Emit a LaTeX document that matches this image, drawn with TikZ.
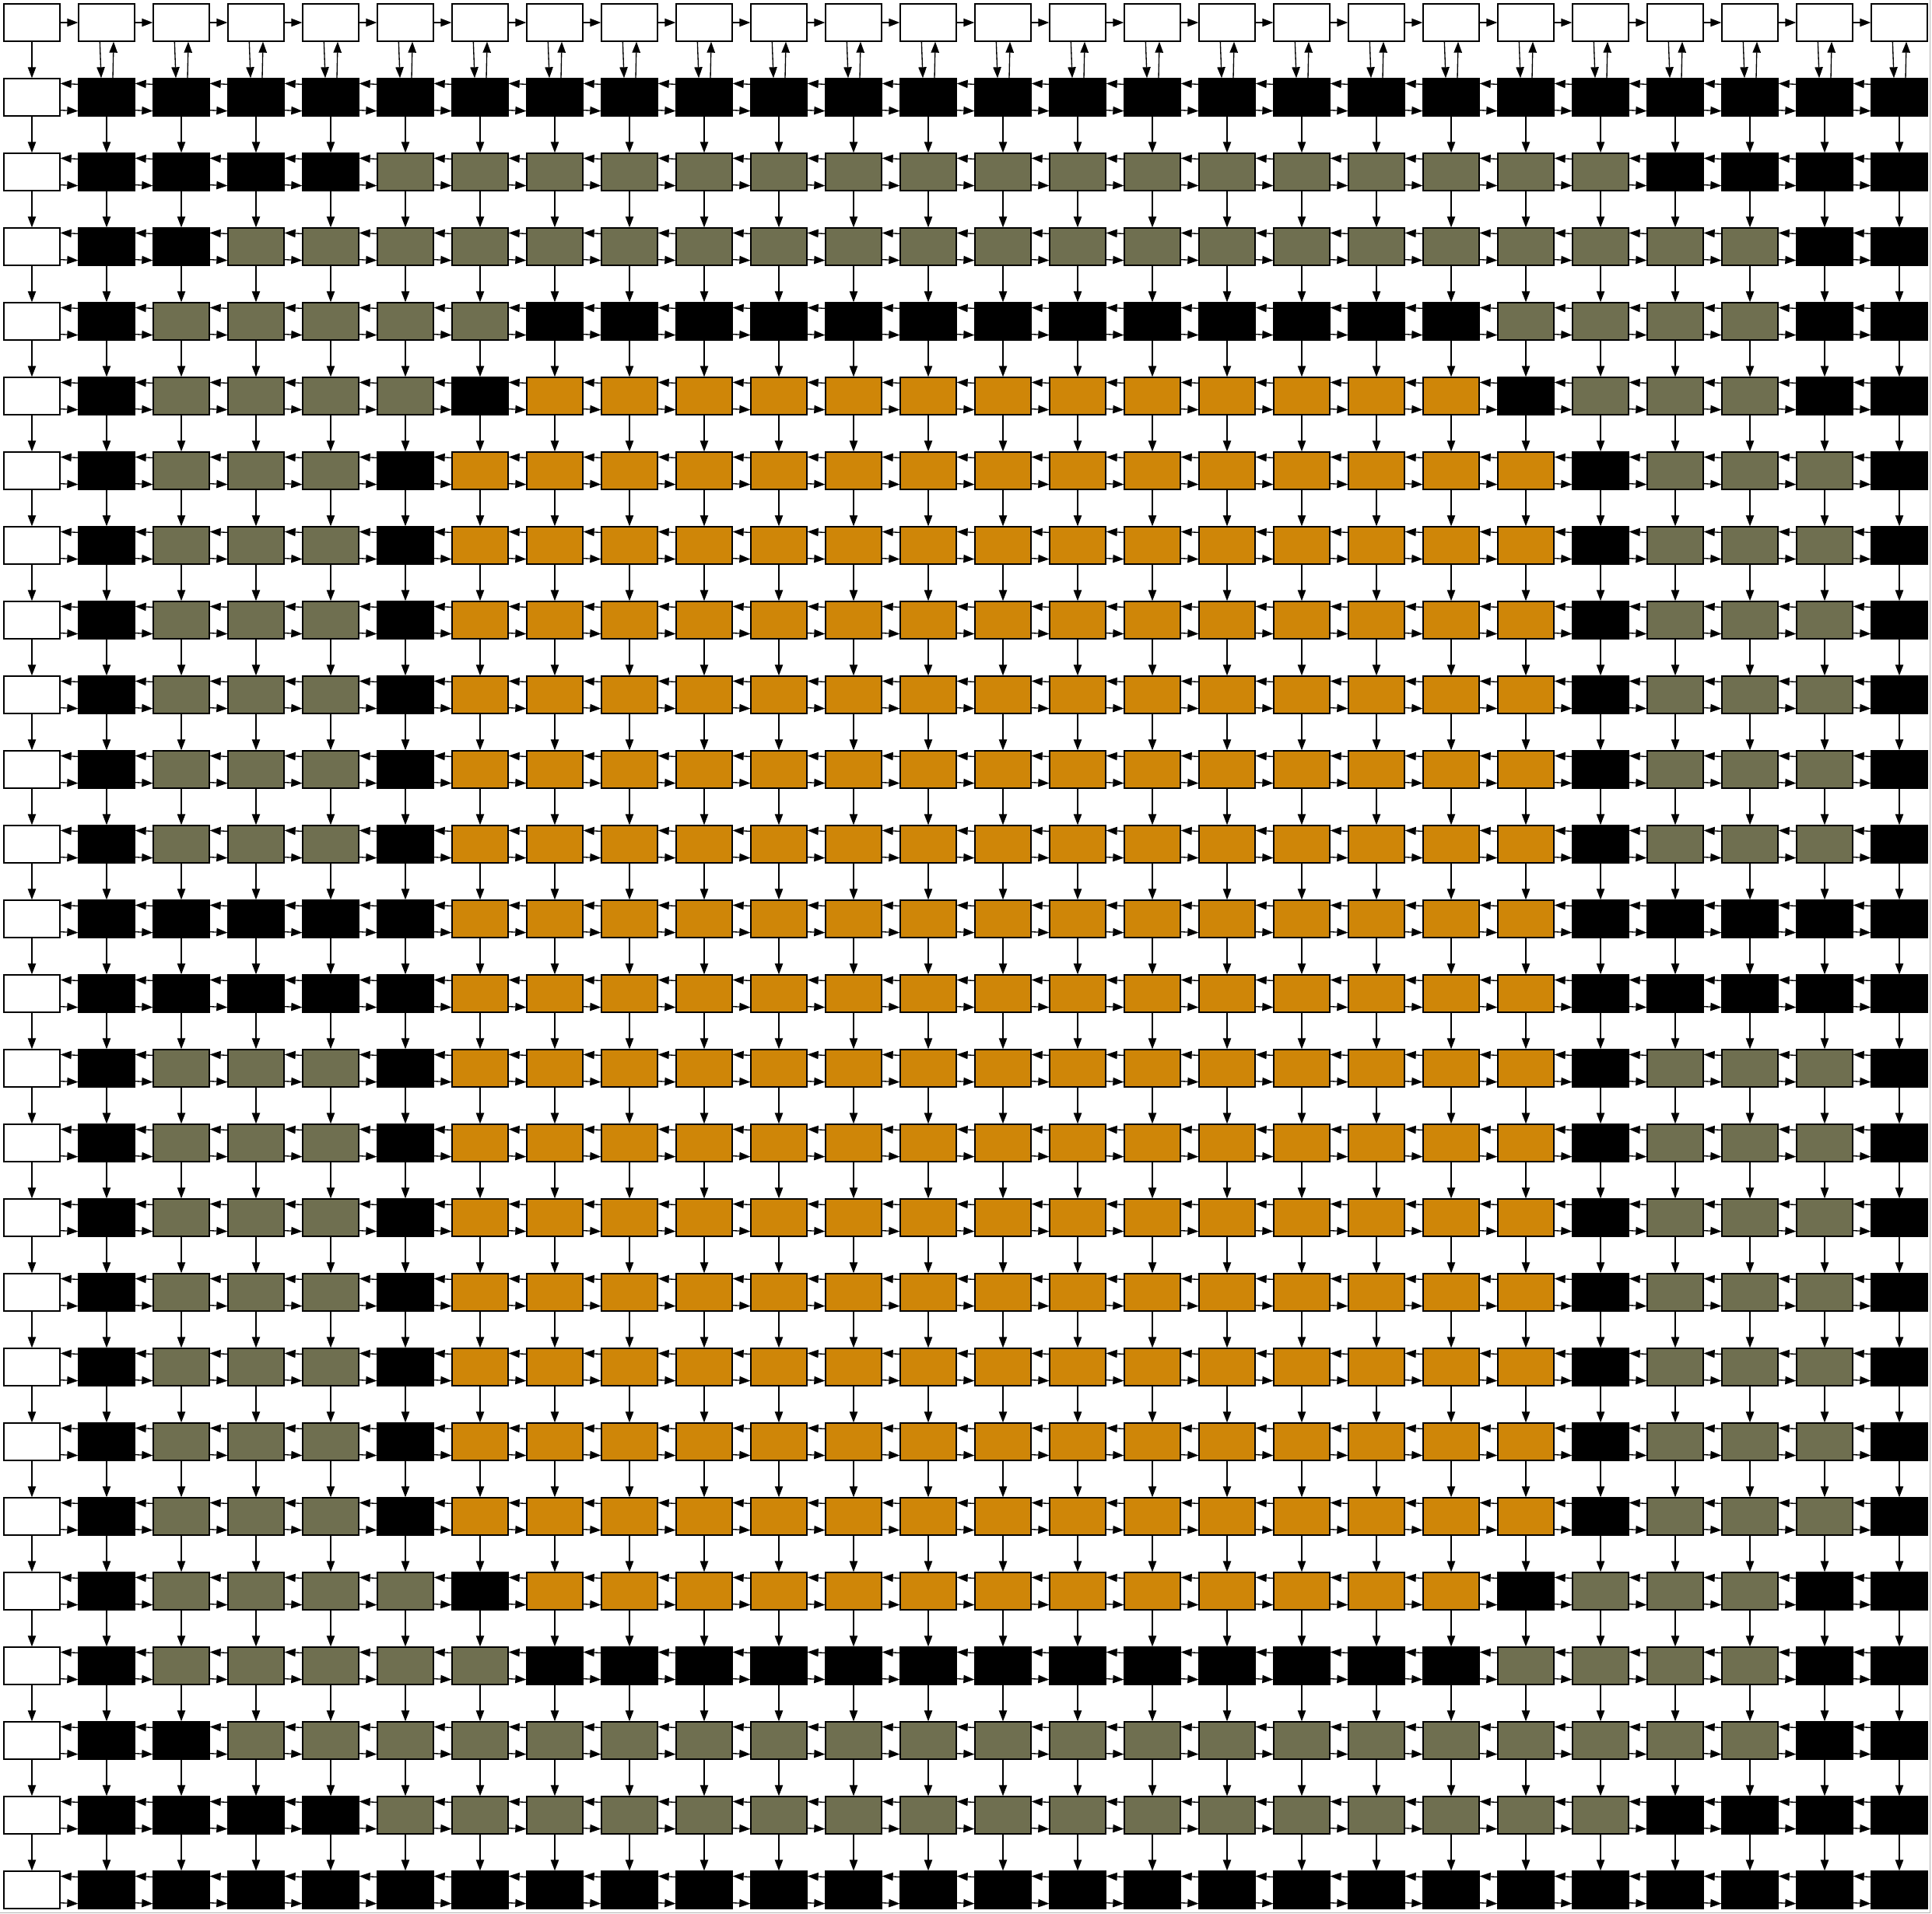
\documentclass[tikz,border=0pt]{standalone}
\usepackage{xcolor}
\usepackage{tikz}
\usetikzlibrary{arrows.meta}
\definecolor{cellW}{RGB}{255,255,255}
\definecolor{cellB}{RGB}{0,0,0}
\definecolor{cellG}{RGB}{111,111,80}
\definecolor{cellO}{RGB}{207,134,8}

% row patterns of the grid
\def\cellrowA{B,B,B,B,B,B,B,B,B,B,B,B,B,B,B,B,B,B,B,B,B,B,B,B,B}
\def\cellrowB{B,B,B,B,G,G,G,G,G,G,G,G,G,G,G,G,G,G,G,G,G,B,B,B,B}
\def\cellrowC{B,B,G,G,G,G,G,G,G,G,G,G,G,G,G,G,G,G,G,G,G,G,G,B,B}
\def\cellrowD{B,G,G,G,G,G,B,B,B,B,B,B,B,B,B,B,B,B,B,G,G,G,G,B,B}
\def\cellrowE{B,G,G,G,G,B,O,O,O,O,O,O,O,O,O,O,O,O,O,B,G,G,G,B,B}
\def\cellrowF{B,G,G,G,B,O,O,O,O,O,O,O,O,O,O,O,O,O,O,O,B,G,G,G,B}
\def\cellrowH{B,B,B,B,B,O,O,O,O,O,O,O,O,O,O,O,O,O,O,O,B,B,B,B,B}

\tikzset{
  cell/.style={draw=black, rectangle, line width=1pt, minimum width=54pt, minimum height=36pt, inner sep=0pt},
  link/.style={-{Triangle[length=10.5pt,width=7.75pt]}, line width=1pt},
}

\begin{document}
\begin{tikzpicture}[x=72pt, y=-72pt]
    \useasboundingbox (-30.75pt,21.75pt) rectangle (1831.5pt,-1822.5pt);
    % frame
    \draw[black!30, line width=0.75pt] (1829.25pt,21.75pt) -- (1829.25pt,-1821.75pt) -- (-30.75pt,-1821.75pt);

    % header row and first column
    \node[cell, fill=cellW] (n-0-0) at (0,0) {};
    \foreach \k in {1,...,25} {
        \node[cell, fill=cellW] (n-0-\k) at (\k,0) {};
        \node[cell, fill=cellW] (n-\k-0) at (0,\k) {};
    }

    % grid cells
    \foreach \p [count=\r] in {A,B,C,D,E,F,F,F,F,F,F,H,H,F,F,F,F,F,F,F,E,D,C,B,A} {
        \edef\cols{\csname cellrow\p\endcsname}
        \foreach \cl [count=\c] in \cols {
            \node[cell, fill=cell\cl] (n-\r-\c) at (\c,\r) {};
        }
    }

    % header row and first column links
    \foreach \c [evaluate=\c as \d using int(\c+1)] in {0,...,24} {
        \draw[link] (n-0-\c) -- (n-0-\d);
        \draw[link] (n-\c-0) -- (n-\d-0);
    }
    % header to first grid row, both ways
    \foreach \c in {1,...,25} {
        \draw[link] ([xshift=-6.5pt]n-0-\c.south) -- ([xshift=-5.25pt]n-1-\c.north);
        \draw[link] ([xshift=6pt]n-1-\c.north) -- ([xshift=6.75pt]n-0-\c.south);
    }
    % down links
    \foreach \r [evaluate=\r as \s using int(\r+1)] in {1,...,24} {
        \foreach \c in {1,...,25} {
            \draw[link] (n-\r-\c) -- (n-\s-\c);
        }
    }
    % side links: to the left above, to the right below
    \foreach \r in {1,...,25} {
        \foreach \c [evaluate=\c as \d using int(\c+1)] in {0,...,24} {
            \draw[link] ([yshift=12.5pt]n-\r-\d.west) -- ([yshift=13.25pt]n-\r-\c.east);
            \draw[link] ([yshift=-12.5pt]n-\r-\c.east) -- ([yshift=-13.25pt]n-\r-\d.west);
        }
    }
\end{tikzpicture}
\end{document}
